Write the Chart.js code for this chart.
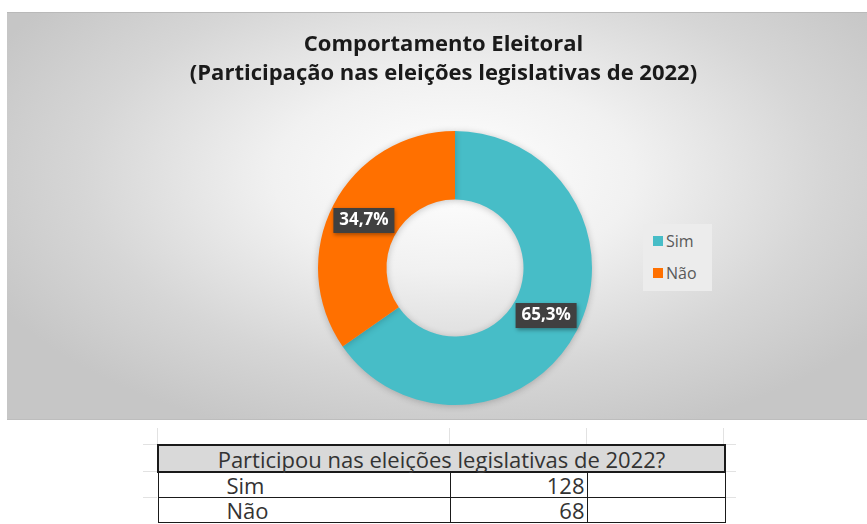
<!DOCTYPE html>
<html lang="pt">
<head>
<meta charset="utf-8">
<title>Comportamento Eleitoral</title>
<script src="https://cdn.jsdelivr.net/npm/chart.js@4/dist/chart.umd.min.js"></script>
<style>
    body {
        margin: 0;
        width: 867px;
        height: 524px;
        background: #ffffff;
        position: relative;
        overflow: hidden;
        font-family: 'Open Sans', 'Noto Sans', sans-serif;
    }
    #chartBox {
        position: absolute;
        left: 7px;
        top: 12px;
        width: 860px;
        height: 408px;
        background: radial-gradient(ellipse 60% 68% at 52% 40%, #ffffff 0%, #f1f1f1 35%, #d6d6d6 72%, #c6c6c6 100%);
        border-top: 1px solid #b9b9b9;
        border-bottom: 1px solid #bdbdbd;
        box-sizing: border-box;
    }
    #chartTitle {
        position: absolute;
        left: 0;
        top: 15px;
        width: 873px;
        text-align: center;
        font-size: 22px;
        font-weight: bold;
        line-height: 29px;
        color: #1a1a1a;
    }
    #legend {
        position: absolute;
        left: 636px;
        top: 211px;
        width: 69px;
        height: 67px;
        background: #ececec;
        box-sizing: border-box;
        padding-top: 1px;
        padding-left: 10px;
    }
    .legend-item {
        display: flex;
        align-items: center;
        height: 32px;
        font-size: 16px;
        color: #595959;
    }
    .legend-swatch {
        width: 10px;
        height: 10px;
        margin-right: 3px;
    }
    .grid-v {
        position: absolute;
        width: 1px;
        background: #e2e2e2;
    }
    .grid-h {
        position: absolute;
        height: 1px;
        background: #e2e2e2;
    }
    #dataTable {
        position: absolute;
        left: 157px;
        top: 444px;
        width: 567px;
        table-layout: fixed;
        border-collapse: collapse;
        font-size: 22px;
        color: #333333;
    }
    #dataTable td, #dataTable th {
        border: 1px solid #1a1a1a;
        height: 25px;
        padding: 0 2px;
        font-weight: normal;
        line-height: 22px;
        box-sizing: border-box;
    }
    #dataTable th {
        background: #d9d9d9;
        border: 2px solid #1a1a1a;
        text-align: center;
        height: 27px;
        white-space: nowrap;
    }
</style>
</head>
<body>

<div id="chartBox">
    <canvas id="pieChart"></canvas>
    <div id="chartTitle"></div>
    <div id="legend"></div>
</div>

<!-- faint spreadsheet grid around the table -->
<div class="grid-v" style="left:157px; top:428px; height:16px;"></div>
<div class="grid-v" style="left:449px; top:428px; height:16px;"></div>
<div class="grid-v" style="left:586px; top:428px; height:16px;"></div>
<div class="grid-v" style="left:723px; top:428px; height:16px;"></div>
<div class="grid-h" style="left:143px; top:444px; width:14px;"></div>
<div class="grid-h" style="left:143px; top:471px; width:14px;"></div>
<div class="grid-h" style="left:143px; top:497px; width:14px;"></div>
<div class="grid-h" style="left:724px; top:444px; width:12px;"></div>
<div class="grid-h" style="left:724px; top:471px; width:12px;"></div>
<div class="grid-h" style="left:724px; top:497px; width:12px;"></div>

<table id="dataTable">
    <colgroup>
        <col style="width:292px">
        <col style="width:137px">
        <col style="width:138px">
    </colgroup>
    <thead>
        <tr><th colspan="3" id="tableTitle"></th></tr>
    </thead>
    <tbody id="tableBody"></tbody>
</table>

<script>
// Chart data
const titleLines = ['Comportamento Eleitoral', '(Participação nas eleições legislativas de 2022)'];
const tableQuestion = 'Participou nas eleições legislativas de 2022?';
const answerLabels = ['Sim', 'Não'];
const answerCounts = [128, 68];
const sliceColors = ['#47bdc7', '#ff7000'];

const totalAnswers = answerCounts.reduce((a, b) => a + b, 0);

function formatPercent(value) {
    return (value / totalAnswers * 100).toFixed(1).replace('.', ',') + '%';
}

/**
 * Draws the dark percentage boxes in the middle of each slice
 */
const sliceLabelPlugin = {
    id: 'sliceLabels',
    afterDatasetsDraw(chart) {
        const ctx = chart.ctx;
        const meta = chart.getDatasetMeta(0);
        const values = chart.data.datasets[0].data;

        meta.data.forEach((arc, i) => {
            const pos = arc.tooltipPosition();
            const text = formatPercent(values[i]);
            const w = 61;
            const h = 25;

            ctx.save();
            ctx.shadowColor = 'rgba(0, 0, 0, 0.35)';
            ctx.shadowBlur = 4;
            ctx.shadowOffsetX = 1;
            ctx.shadowOffsetY = 2;
            ctx.fillStyle = '#404040';
            ctx.fillRect(pos.x - w / 2, pos.y - h / 2, w, h);
            ctx.restore();

            ctx.save();
            ctx.fillStyle = '#ffffff';
            ctx.font = 'bold 17px "Open Sans", "Noto Sans", sans-serif';
            ctx.textAlign = 'center';
            ctx.textBaseline = 'middle';
            ctx.fillText(text, pos.x, pos.y);
            ctx.restore();
        });
    }
};

/**
 * Soft shadow under the ring
 */
const ringShadowPlugin = {
    id: 'ringShadow',
    beforeDatasetsDraw(chart) {
        const ctx = chart.ctx;
        ctx.save();
        ctx.shadowColor = 'rgba(0, 0, 0, 0.22)';
        ctx.shadowBlur = 7;
        ctx.shadowOffsetY = 1;
    },
    afterDatasetsDraw(chart) {
        chart.ctx.restore();
    }
};

function initParticipationChart(canvasId) {
    const ctx = document.getElementById(canvasId);
    if (!ctx) {
        console.error(`Canvas element with ID '${canvasId}' not found`);
        return;
    }

    window.participationChart = new Chart(ctx, {
        type: 'doughnut',
        data: {
            labels: answerLabels,
            datasets: [{
                data: answerCounts,
                backgroundColor: sliceColors,
                borderWidth: 0
            }]
        },
        options: {
            responsive: true,
            maintainAspectRatio: false,
            animation: false,
            cutout: '50%',
            layout: {
                // title is drawn in HTML above, so leave room for it here
                padding: { left: 36, right: 0, top: 118, bottom: 14 }
            },
            plugins: {
                legend: {
                    display: false // custom legend below
                },
                tooltip: {
                    enabled: false
                },
                title: {
                    display: false
                }
            }
        },
        plugins: [ringShadowPlugin, sliceLabelPlugin]
    });
}

function buildTitle() {
    const title = document.getElementById('chartTitle');
    titleLines.forEach(line => {
        const div = document.createElement('div');
        div.textContent = line;
        title.appendChild(div);
    });
}

function buildLegend() {
    const legend = document.getElementById('legend');
    answerLabels.forEach((label, i) => {
        const item = document.createElement('div');
        item.className = 'legend-item';
        const swatch = document.createElement('span');
        swatch.className = 'legend-swatch';
        swatch.style.background = sliceColors[i];
        item.appendChild(swatch);
        item.appendChild(document.createTextNode(label));
        legend.appendChild(item);
    });
}

function buildTable() {
    document.getElementById('tableTitle').textContent = tableQuestion;
    const body = document.getElementById('tableBody');
    answerLabels.forEach((label, i) => {
        const row = document.createElement('tr');
        const nameCell = document.createElement('td');
        nameCell.style.paddingLeft = '68px';
        nameCell.textContent = label;
        const countCell = document.createElement('td');
        countCell.style.textAlign = 'right';
        countCell.textContent = answerCounts[i];
        const emptyCell = document.createElement('td');
        row.appendChild(nameCell);
        row.appendChild(countCell);
        row.appendChild(emptyCell);
        body.appendChild(row);
    });
}

buildTitle();
buildLegend();
buildTable();
initParticipationChart('pieChart');
</script>
</body>
</html>
